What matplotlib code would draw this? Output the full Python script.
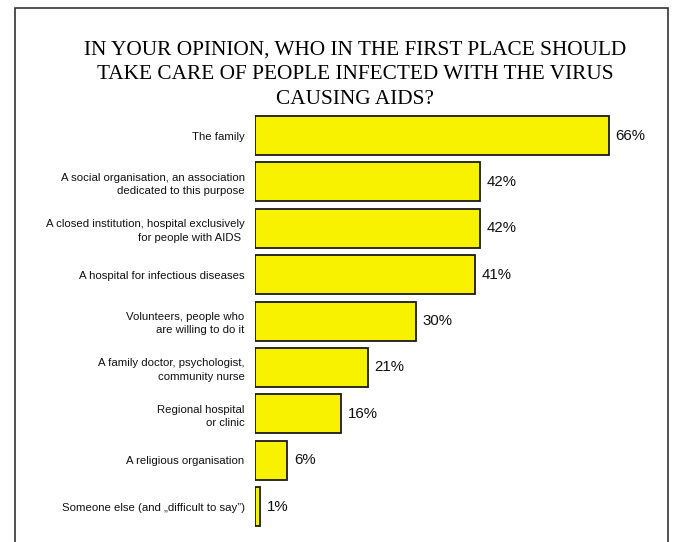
import matplotlib
matplotlib.use("Agg")
import matplotlib.pyplot as plt
from matplotlib.patches import Rectangle

# survey answers, top to bottom
categories = [
    "The family",
    "A social organisation, an association\ndedicated to this purpose",
    "A closed institution, hospital exclusively\nfor people with AIDS ",
    "A hospital for infectious diseases",
    "Volunteers, people who\nare willing to do it",
    "A family doctor, psychologist,\ncommunity nurse",
    "Regional hospital\nor clinic",
    "A religious organisation",
    "Someone else (and \u201edifficult to say\u201d)",
]
values = [66, 42, 42, 41, 30, 21, 16, 6, 1]

title = ("IN YOUR OPINION, WHO IN THE FIRST PLACE SHOULD\n"
         "TAKE CARE OF PEOPLE INFECTED WITH THE VIRUS\n"
         "CAUSING AIDS?")

W, H, DPI = 678, 542, 100
fig = plt.figure(figsize=(W / DPI, H / DPI), dpi=DPI)

# outer frame (runs off the bottom edge)
fig.patches.append(Rectangle((15 / W, -0.05), (668 - 15) / W, 1.05 - 8 / H,
                             transform=fig.transFigure, fill=False,
                             edgecolor="#333333", linewidth=1.2))

fig.text(355 / W, 1 - 74.5 / H, title, ha="center", va="center",
         family="Liberation Serif", fontsize=15.3, linespacing=1.42)

# axes placed in pixel terms: 5.36 px per percent, 46.4 px per row
px_per_pct = 5.36
row = 46.4
xmax = 75
ax_left, ax_top = 255, 135.5 - row / 2
ax_h = row * len(values)
ax = fig.add_axes([ax_left / W, 1 - (ax_top + ax_h) / H,
                   xmax * px_per_pct / W, ax_h / H])

pos = list(range(len(values)))
ax.barh(pos, values, height=0.84, color="#f8f200", edgecolor="#1a1a1a",
        linewidth=1.3)
for p, v in zip(pos, values):
    ax.annotate(f"{v}%", (v, p), xytext=(5, 0), textcoords="offset points",
                va="center", ha="left", family="Liberation Sans",
                fontsize=10.8, color="#111111")

ax.set_xlim(0, xmax)
ax.set_ylim(len(values) - 0.5, -0.5)
ax.set_xticks([])
ax.set_yticks(pos)
ax.set_yticklabels(categories, family="Liberation Sans", fontsize=8.2,
                   color="#111111", linespacing=1.42)
ax.tick_params(axis="y", length=0, pad=7.5)
for s in ax.spines.values():
    s.set_visible(False)

fig.savefig("out.png", dpi=DPI)
